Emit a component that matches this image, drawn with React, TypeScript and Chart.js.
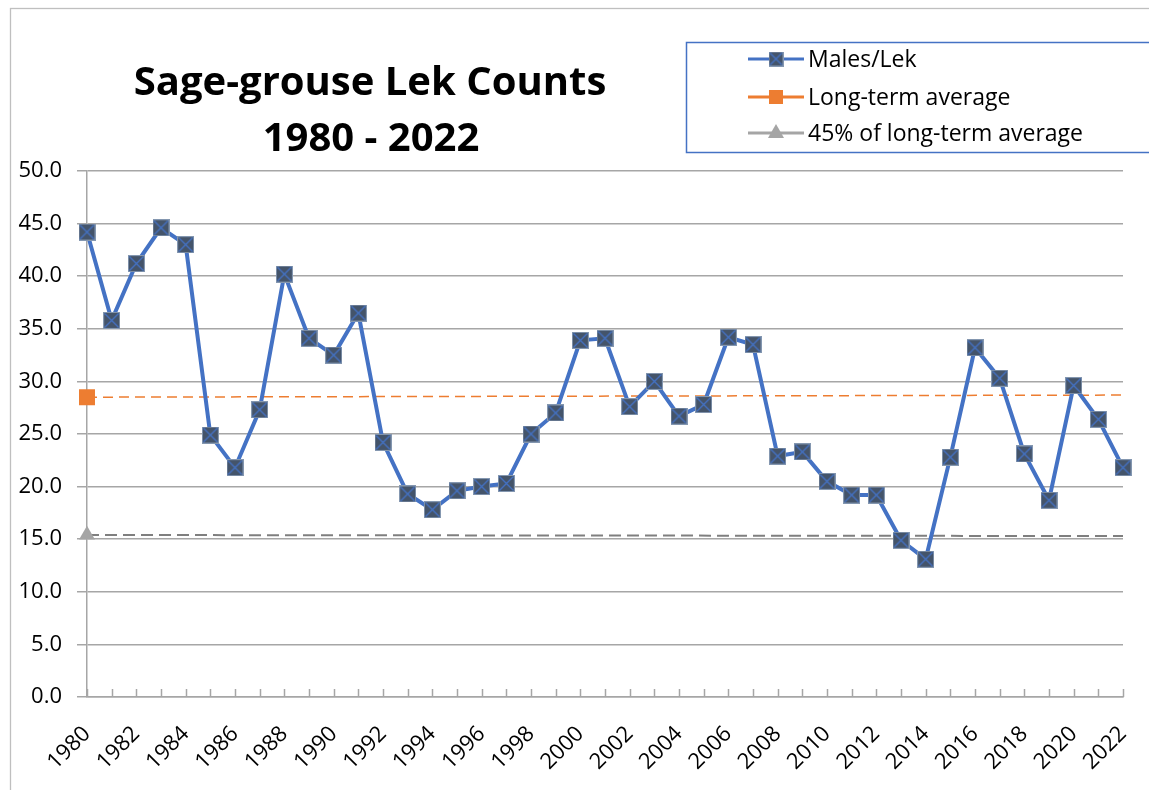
import React, { useEffect, useRef } from "react";
import { Chart, registerables } from "chart.js";

Chart.register(...registerables);

const years: string[] = [];
for (let y = 1980; y <= 2022; y++) years.push(String(y));

const malesPerLek = [
  44.2, 35.8, 41.2, 44.6, 43.0, 24.9, 21.8, 27.3, 40.2, 34.1,
  32.5, 36.5, 24.2, 19.3, 17.8, 19.6, 20.0, 20.3, 25.0, 27.0,
  33.9, 34.1, 27.6, 30.0, 26.7, 27.8, 34.2, 33.5, 22.9, 23.3,
  20.5, 19.2, 19.2, 14.9, 13.1, 22.8, 33.2, 30.3, 23.1, 18.7,
  29.6, 26.4, 21.8,
];

// Long-term average: marker at 1980, dashed trend line to 2022
const longTermStart = 28.5;
const longTermEnd = 28.7;
// 45% of long-term average
const pct45Start = 15.4;
const pct45End = 15.3;

const yTicks = [0, 5, 10, 15, 20, 25, 30, 35, 40, 45, 50];

const titleLines = ["Sage-grouse Lek Counts", "1980 - 2022"];
const FONT = '"Open Sans", Lato, sans-serif';

function endpoints(a: number, b: number, n: number): (number | null)[] {
  const arr: (number | null)[] = new Array(n).fill(null);
  arr[0] = a;
  arr[n - 1] = b;
  return arr;
}

function makeMarker(size: number): HTMLCanvasElement {
  const c = document.createElement("canvas");
  c.width = size;
  c.height = size;
  const g = c.getContext("2d")!;
  g.fillStyle = "#8497B0";
  g.fillRect(0, 0, size, size);
  g.fillStyle = "#44546A";
  g.fillRect(1, 1, size - 2, size - 2);
  g.strokeStyle = "#4472C4";
  g.lineWidth = 1.4;
  g.beginPath();
  g.moveTo(1.5, 1.5);
  g.lineTo(size - 1.5, size - 1.5);
  g.moveTo(size - 1.5, 1.5);
  g.lineTo(1.5, size - 1.5);
  g.stroke();
  return c;
}

export default function App() {
  const ref = useRef<HTMLCanvasElement | null>(null);

  useEffect(() => {
    if (!ref.current) return;
    const marker = makeMarker(17);
    const legendMarker = makeMarker(15);
    const n = years.length;

    const framePlugin = {
      id: "frame",
      beforeDraw(chart: any) {
        const ctx = chart.ctx;
        ctx.save();
        ctx.fillStyle = "#ffffff";
        ctx.fillRect(0, 0, chart.width, chart.height);
        ctx.strokeStyle = "#BFBFBF";
        ctx.lineWidth = 1.3;
        ctx.strokeRect(10.5, 8.5, 3000, 3000);
        ctx.restore();
      },
      afterDraw(chart: any) {
        const ctx = chart.ctx;
        ctx.save();
        // title
        ctx.fillStyle = "#000000";
        ctx.font = `bold 40px ${FONT}`;
        ctx.textAlign = "center";
        ctx.textBaseline = "middle";
        ctx.fillText(titleLines[0], 370, 84);
        ctx.fillText(titleLines[1], 371, 140);

        // inner tick marks on x axis
        const xs = chart.scales.x;
        const area = chart.chartArea;
        ctx.strokeStyle = "#A6A6A6";
        ctx.lineWidth = 1.5;
        ctx.beginPath();
        for (let i = 0; i < xs.ticks.length; i++) {
          const px = Math.round(xs.getPixelForTick(i)) + 0.5;
          ctx.moveTo(px, area.bottom);
          ctx.lineTo(px, area.bottom - 8);
        }
        ctx.stroke();

        // legend
        ctx.strokeStyle = "#4472C4";
        ctx.lineWidth = 1.5;
        ctx.strokeRect(686.5, 42.5, 480, 110);
        const rows = [59, 97, 133];
        chart.data.datasets.forEach((ds: any, i: number) => {
          const y = rows[i];
          ctx.strokeStyle = ds.legendColor;
          ctx.lineWidth = 3;
          ctx.setLineDash([]);
          ctx.beginPath();
          ctx.moveTo(748, y);
          ctx.lineTo(804, y);
          ctx.stroke();
          if (ds.legendMarker === "img") {
            ctx.drawImage(legendMarker, 776 - 7.5, y - 7.5);
          } else if (ds.legendMarker === "rect") {
            ctx.fillStyle = ds.legendColor;
            ctx.fillRect(776 - 7, y - 7, 14, 14);
          } else {
            ctx.fillStyle = ds.legendColor;
            ctx.beginPath();
            ctx.moveTo(776, y - 9);
            ctx.lineTo(776 + 8, y + 5);
            ctx.lineTo(776 - 8, y + 5);
            ctx.closePath();
            ctx.fill();
          }
          ctx.fillStyle = "#000000";
          ctx.font = `23px ${FONT}`;
          ctx.textAlign = "left";
          ctx.textBaseline = "middle";
          ctx.fillText(ds.label, 808, y + 1);
        });
        ctx.restore();
      },
    };

    const chart = new Chart(ref.current, {
      type: "line",
      data: {
        labels: years,
        datasets: [
          {
            label: "Males/Lek",
            data: malesPerLek,
            borderColor: "#4472C4",
            borderWidth: 4,
            pointStyle: marker as any,
            pointRadius: 8,
            tension: 0,
            order: 0,
            legendColor: "#4472C4",
            legendMarker: "img",
          } as any,
          {
            label: "Long-term average",
            data: endpoints(longTermStart, longTermEnd, n),
            spanGaps: true,
            borderColor: "#ED7D31",
            borderWidth: 1.5,
            borderDash: [10, 6],
            pointStyle: "rect",
            pointRadius: (c: any) => (c.dataIndex === 0 ? 11.3 : 0),
            pointBackgroundColor: "#ED7D31",
            pointBorderWidth: 0,
            order: 1,
            legendColor: "#ED7D31",
            legendMarker: "rect",
          } as any,
          {
            label: "45% of long-term average",
            data: endpoints(pct45Start, pct45End, n),
            spanGaps: true,
            borderColor: "#7F7F7F",
            borderWidth: 2,
            borderDash: [12, 6],
            pointStyle: "triangle",
            pointRadius: (c: any) => (c.dataIndex === 0 ? 9.2 : 0),
            pointBackgroundColor: "#A5A5A5",
            pointBorderWidth: 0,
            order: 2,
            legendColor: "#A5A5A5",
            legendMarker: "tri",
          } as any,
        ],
      },
      options: {
        responsive: false,
        animation: false,
        devicePixelRatio: 1,
        layout: { padding: { left: 0, top: 171, right: 26, bottom: 0 } },
        plugins: {
          legend: { display: false },
          title: { display: false },
          tooltip: { enabled: false },
        },
        scales: {
          x: {
            type: "category",
            offset: false,
            grid: { display: false },
            border: { display: true, color: "#A6A6A6", width: 1.5 },
            ticks: {
              autoSkip: false,
              maxRotation: 45,
              minRotation: 45,
              padding: 16,
              color: "#000000",
              font: { family: FONT, size: 22 },
              callback: (_v: any, i: number) => (i % 2 === 0 ? years[i] : ""),
            },
            afterFit: (s: any) => {
              s.height = 93;
              s.paddingLeft = 0;
              s.paddingRight = 0;
            },
          },
          y: {
            min: 0,
            max: 50,
            afterBuildTicks: (s: any) => {
              s.ticks = yTicks.map((v) => ({ value: v }));
            },
            grid: {
              color: "#A6A6A6",
              lineWidth: 1.5,
              tickLength: 10,
              drawTicks: true,
            },
            border: { display: true, color: "#A6A6A6", width: 1.5 },
            ticks: {
              padding: 15,
              color: "#000000",
              font: { family: FONT, size: 22 },
              callback: (v: any) => Number(v).toFixed(1),
            },
            afterFit: (s: any) => {
              s.width = 87;
              s.paddingTop = 0;
              s.paddingBottom = 0;
            },
          },
        },
      } as any,
      plugins: [framePlugin],
    });

    return () => chart.destroy();
  }, []);

  return (
    <canvas
      ref={ref}
      width={1149}
      height={790}
      style={{ position: "absolute", left: 0, top: 0, display: "block" }}
    />
  );
}
